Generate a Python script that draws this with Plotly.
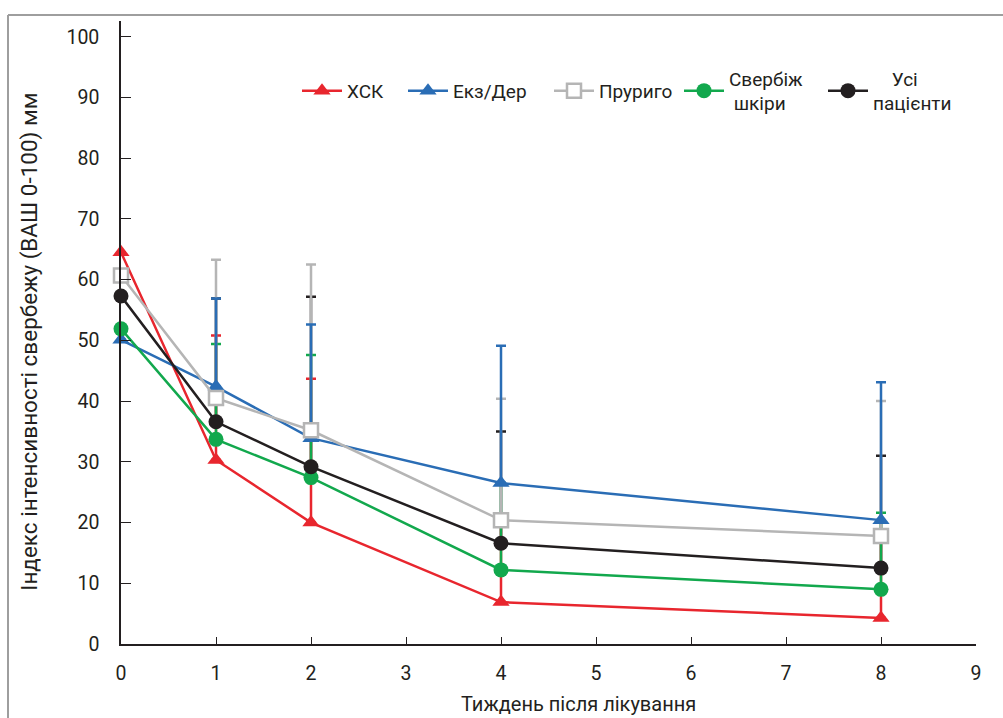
import plotly.graph_objects as go

weeks = [0, 1, 2, 4, 8]
names = ["ХСК", "Екз/Дер", "Пруриго", "Свербіж<br>&nbsp;шкіри", "&nbsp;&nbsp;&nbsp;&nbsp;Усі<br>пацієнти"]
hsk = [64.5, 30.3, 20.0, 6.9, 4.3]
ekz = [50.1, 42.4, 33.9, 26.5, 20.4]
prur = [60.7, 40.5, 35.2, 20.4, 17.8]
sverb = [51.9, 33.7, 27.4, 12.2, 9.0]
allp = [57.3, 36.6, 29.2, 16.6, 12.5]

hsk_sd = [None, 20.5, 23.7, 13.5, 13.5]
ekz_sd = [None, 14.5, 18.7, 22.6, 22.7]
prur_sd = [None, 22.8, 27.3, 20.0, 22.2]
sverb_sd = [None, 15.7, 20.2, 14.3, 12.6]
allp_sd = [None, 20.3, 28.0, 18.4, 18.5]

x_ticks = list(range(0, 10))
y_ticks = list(range(0, 101, 10))

RED = "#e8262e"
BLUE = "#2a6db5"
GRAY = "#b5b5b5"
GREEN = "#12a84d"
BLACK = "#231f20"

series = [
    (names[0], hsk, hsk_sd, RED, dict(symbol="triangle-up", size=15, color=RED)),
    (names[1], ekz, ekz_sd, BLUE, dict(symbol="triangle-up", size=15, color=BLUE)),
    (names[2], prur, prur_sd, GRAY, dict(symbol="square", size=14, color="white", line=dict(color=GRAY, width=2.5))),
    (names[3], sverb, sverb_sd, GREEN, dict(symbol="circle", size=15, color=GREEN)),
    (names[4], allp, allp_sd, BLACK, dict(symbol="circle", size=15, color=BLACK)),
]

# plot area in page pixels
L, R, T, B = 121, 976, 21, 644.5
W, H = 1003, 718


def px_x(p):
    return (p - L) / (R - L)


def px_y(p):
    return (B - p) / (B - T)


fig = go.Figure()

# error bars first (under the lines); drawing order black, red, green, gray, blue
for idx in [4, 0, 3, 2, 1]:
    name, vals, sd, col, mk = series[idx]
    fig.add_trace(go.Scatter(
        x=weeks, y=vals, mode="markers",
        marker=dict(size=1, opacity=0),
        error_y=dict(type="data", symmetric=False, array=sd, arrayminus=[0] * len(sd),
                     color=col, thickness=2.5, width=5),
        showlegend=False, hoverinfo="skip",
    ))

legend_ids = ["legend", "legend2", "legend3", "legend4", "legend5"]
legend_left = [297, 403, 549, 679, 823]

for i, (name, vals, sd, col, mk) in enumerate(series):
    fig.add_trace(go.Scatter(
        x=weeks, y=vals, name=name, mode="lines+markers",
        line=dict(color=col, width=2.5), marker=mk, legend=legend_ids[i],
        cliponaxis=False,
    ))

FONT = "Roboto"
legend_common = dict(orientation="h", xanchor="left", yanchor="middle",
                     font=dict(family=FONT, size=19, color=BLACK),
                     bgcolor="rgba(0,0,0,0)", valign="middle", itemwidth=40,
                     tracegroupgap=0)
layout_legends = {}
for i, lid in enumerate(legend_ids):
    layout_legends[lid] = dict(legend_common, x=px_x(legend_left[i]), y=px_y(91))

fig.update_layout(
    width=W, height=H,
    margin=dict(l=L, r=W - R, t=T, b=H - B, autoexpand=False),
    paper_bgcolor="white", plot_bgcolor="white",
    font=dict(family=FONT, size=19, color=BLACK),
    showlegend=True,
    **layout_legends,
)
fig.update_xaxes(range=[0, 9], tickvals=x_ticks, ticks="inside", ticklen=7, tickwidth=1.2,
                 tickcolor=BLACK, showline=True, linecolor=BLACK, linewidth=1.5,
                 showgrid=False, zeroline=False, ticklabelstandoff=11,
                 tickfont=dict(size=19.5), automargin=False)
fig.update_yaxes(range=[0, 102.6], tickvals=y_ticks, ticks="inside", ticklen=10, tickwidth=1.2,
                 tickcolor=BLACK, showline=True, linecolor=BLACK, linewidth=1.5,
                 showgrid=False, zeroline=False, ticklabelstandoff=16,
                 tickfont=dict(size=19.5), automargin=False)

fig.add_annotation(text="Тиждень після лікування", xref="paper", yref="paper",
                   x=px_x(578), y=px_y(705), xanchor="center", yanchor="middle",
                   showarrow=False, font=dict(size=20))
fig.add_annotation(text="Індекс інтенсивності свербежу (ВАШ 0-100) мм", xref="paper", yref="paper",
                   x=px_x(30), y=px_y(342), xanchor="center", yanchor="middle",
                   textangle=-90, showarrow=False, font=dict(size=22.5))

# outer frame lines (top and left)
fig.add_shape(type="line", xref="paper", yref="paper", x0=px_x(8), x1=px_x(1010),
              y0=px_y(15), y1=px_y(15), line=dict(color="#9e9e9e", width=2))
fig.add_shape(type="line", xref="paper", yref="paper", x0=px_x(8), x1=px_x(8),
              y0=px_y(15), y1=px_y(725), line=dict(color="#9e9e9e", width=2))

fig.write_html("out.html", config={"displayModeBar": False},
               post_script="document.body.style.margin='0';")
